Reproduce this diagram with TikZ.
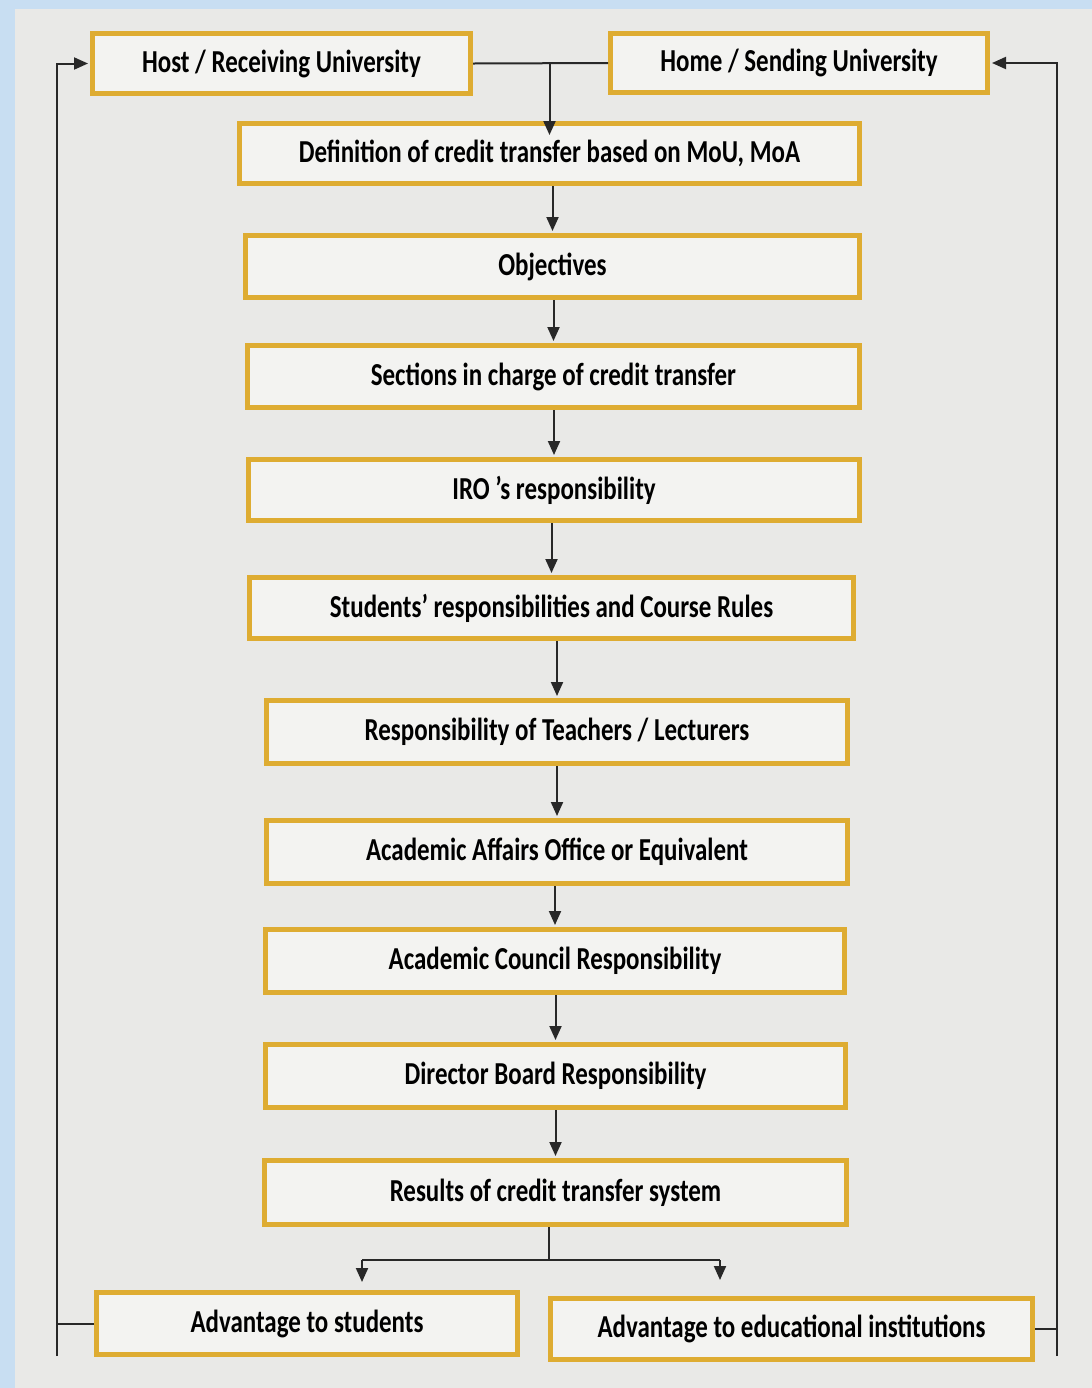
\documentclass[tikz,border=0pt]{standalone}
\usepackage{fontspec}
\setmainfont{Carlito}[FakeStretch=0.78]
\usetikzlibrary{arrows.meta}

\definecolor{boxgold}{RGB}{222,172,50}
\definecolor{boxfill}{RGB}{243,243,241}
\definecolor{panelgray}{RGB}{233,233,231}
\definecolor{edgeblue}{RGB}{200,222,242}
\definecolor{linegray}{RGB}{40,40,40}

\tikzset{
  stepbox/.style={draw=boxgold, line width=2.5pt, fill=boxfill, inner sep=0pt,
    font=\fontsize{16}{19}\selectfont\bfseries, text=black},
  link/.style={draw=linegray, line width=1pt},
  arr/.style={link, -{Triangle[length=7pt,width=6pt]}, shorten >=1pt}
}

\begin{document}
\begin{tikzpicture}[x=0.5pt, y=-0.5pt]

	% photo background
	\useasboundingbox (0,0) rectangle (1092,1388);
	\fill[edgeblue] (0,0) rectangle (1092,1388);
	\fill[panelgray] (15,9) rectangle (1092,1388);

	% boxes
	\node[stepbox, minimum width=189pt, minimum height=30pt] (host) at (281.5,63.5) {Host / Receiving University};
	\node[stepbox, minimum width=188.5pt, minimum height=29.5pt] (home) at (799,63) {Home / Sending University};
	\node[stepbox, minimum width=310pt, minimum height=30pt] (defn) at (549.5,153.5) {Definition of credit transfer based on MoU, MoA};
	\node[stepbox, minimum width=307pt, minimum height=31pt] (obj) at (552.5,266.5) {Objectives};
	\node[stepbox, minimum width=306pt, minimum height=31pt] (sect) at (553.5,376.5) {Sections in charge of credit transfer};
	\node[stepbox, minimum width=305.5pt, minimum height=30.5pt] (iro) at (554,490) {IRO ’s responsibility};
	\node[stepbox, minimum width=302pt, minimum height=30.5pt] (stud) at (551.5,608) {Students’ responsibilities and Course Rules};
	\node[stepbox, minimum width=290.5pt, minimum height=31.5pt] (teach) at (557,732) {Responsibility of Teachers / Lecturers};
	\node[stepbox, minimum width=290.5pt, minimum height=31.5pt] (aao) at (557,852) {Academic Affairs Office or Equivalent};
	\node[stepbox, minimum width=289.5pt, minimum height=31.5pt] (council) at (555,961) {Academic Council Responsibility};
	\node[stepbox, minimum width=290pt, minimum height=31.5pt] (board) at (555.5,1076) {Director Board Responsibility};
	\node[stepbox, minimum width=291pt, minimum height=32pt] (results) at (555.5,1192.5) {Results of credit transfer system};
	\node[stepbox, minimum width=210.5pt, minimum height=31pt] (advs) at (307,1323.5) {Advantage to students};
	\node[stepbox, minimum width=241pt, minimum height=30.5pt] (advi) at (791.5,1329) {Advantage to educational institutions};

	% top link
	\draw[link] (host.east) -- (home.west);
	\draw[arr] (defn.north |- host.east) -- ([yshift=-8pt]defn.north);

	% chain
	\foreach \a/\b in {defn/obj, obj/sect, sect/iro, iro/stud, stud/teach,
	                   teach/aao, aao/council, council/board, board/results}
		\draw[arr] (\b.north |- \a.south) -- (\b.north);

	% split to the two results
	\coordinate (split) at (549,1260);
	\coordinate (sl) at (362,1260);
	\coordinate (sr) at (720,1260);
	\draw[link] (results.south -| split) -- (split);
	\draw[link] (sl) -- (sr);
	\draw[arr, shorten >=4pt] (sl) -- (sl |- advs.north);
	\draw[arr, shorten >=8pt] (sr) -- (sr |- advi.north);

	% feedback loops
	\coordinate (lb) at (57,1356);
	\coordinate (rb) at (1057,1356);
	\draw[link] (advs.west) -- (advs.west -| lb);
	\draw[arr] (lb) |- (host.west);
	\draw[link] (advi.east) -- (advi.east -| rb);
	\draw[arr] (rb) |- (home.east);

\end{tikzpicture}
\end{document}
